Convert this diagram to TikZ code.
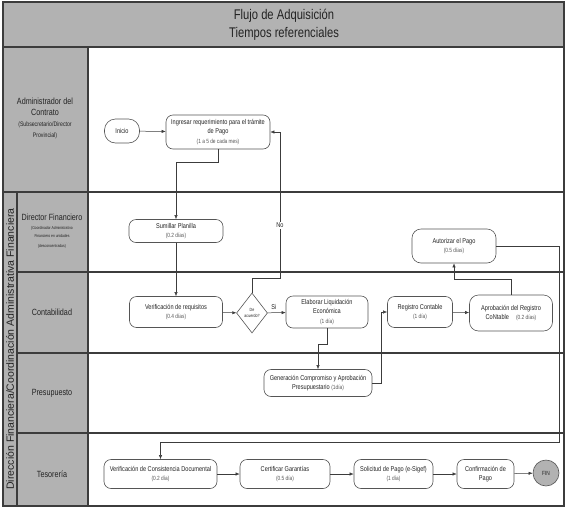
\documentclass[tikz,border=0pt]{standalone}
\usepackage{fontspec}
\setmainfont[FakeStretch=0.8]{Liberation Sans}
\newfontfamily\widefont{Liberation Sans}
\usetikzlibrary{positioning,arrows.meta,shapes.geometric}
\definecolor{lanegray}{RGB}{178,178,178}
\definecolor{linegray}{RGB}{60,60,60}
\definecolor{boxgray}{RGB}{85,85,85}
\definecolor{textgray}{RGB}{35,35,35}
\definecolor{subgray}{RGB}{85,85,85}
\newcommand{\tiempo}[1]{{\fontsize{6}{9}\selectfont\color{subgray}#1}}
\newcommand{\cargo}[2]{{\fontsize{#1}{8}\selectfont #2}}

\begin{document}
\begin{tikzpicture}[x=1pt,y=-1pt,
  task/.style={draw=boxgray, line width=0.6pt, fill=white, rounded corners=7pt, align=center, text=textgray, font=\fontsize{7}{9.5}\selectfont, inner sep=1pt},
  flow/.style={draw=linegray, line width=0.5pt, -{Latex[length=4pt,width=3.2pt]}},
  laneline/.style={draw=linegray, line width=1.3pt},
  lanelabel/.style={align=center, text=textgray, font=\fontsize{9}{11}\selectfont}]

  \useasboundingbox (0,0) rectangle (567,509);
  \fill[white] (0,0) rectangle (567,509);

  % Title and header column
  \fill[lanegray] (3,2) rectangle (564,47);
  \fill[lanegray] (3,47) rectangle (88,506);
  \node[font=\fontsize{14}{18}\selectfont, align=center, text=textgray] (titulo) at (284,25) {Flujo de Adquisición\\Tiempos referenciales};

  % Lanes
  \draw[laneline] (3,47) -- (564,47);
  \draw[laneline] (3,192) -- (564,192);
  \foreach \y in {272,353,433}
    \draw[laneline] (17,\y) -- (564,\y);
  \draw[laneline] (88,47) -- (88,506);
  \draw[laneline] (17,192) -- (17,506);
  \draw[laneline] (3,2) rectangle (564,506);

  \node[rotate=90, font=\widefont\fontsize{10.5}{12}\selectfont, text=textgray] (direccion) at (10,349) {Dirección Financiera/Coordinación Administrativa Financiera};
  \node[lanelabel] (hadmin) at (45,118) {Administrador del\\Contrato\\\cargo{6.5}{(Subsecretario/Director}\\\cargo{6.5}{Provincial)}};
  \node[lanelabel] (hdirector) at (52,231) {Director Financiero\\[-2pt]\cargo{4.2}{(Coordinador Administrativo}\\[-3pt]\cargo{4.2}{Financiero en unidades}\\[-1pt]\cargo{4.2}{(desconcentradas)}};
  \node[lanelabel] (hconta) at (52,312) {Contabilidad};
  \node[lanelabel] (hpresu) at (52,393) {Presupuesto};
  \node[lanelabel] (hteso) at (52,474) {Tesorería};

  % Administrador del Contrato
  \node[task, rounded corners=11pt, minimum width=35, minimum height=24] (inicio) at (122,131) {Inicio};
  \node[task, minimum width=104, minimum height=34] (ingresar) at (218,132) {Ingresar requerimiento para el trámite\\de Pago\\\tiempo{(1 a 5 de cada mes)}};

  % Director Financiero
  \node[task, minimum width=94, minimum height=23] (sumillar) at (176,231) {Sumillar Planilla\\\tiempo{(0.2 días)}};
  \node[task, rounded corners=9pt, minimum width=84, minimum height=34] (autorizar) at (454,246) {Autorizar el Pago\\\tiempo{(0.5 días)}};

  % Contabilidad
  \node[task, minimum width=93, minimum height=31] (verif) at (176,312) {Verificación de requisitos\\\tiempo{(0.4 días)}};
  \node[diamond, draw=boxgray, line width=0.6pt, fill=white, aspect=0.78, inner sep=0pt, minimum width=31, minimum height=40, align=center, text=textgray, font=\fontsize{4.5}{5.5}\selectfont] (acuerdo) at (252,313) {De\\acuerdo?};
  \node[task, minimum width=82, minimum height=32] (elaborar) at (327,312) {Elaborar Liquidación\\Económica\\\tiempo{(1 día)}};
  \node[task, minimum width=65, minimum height=31] (registro) at (420,312) {Registro Contable\\\tiempo{(1 día)}};
  \node[task, rounded corners=9pt, minimum width=83, minimum height=36] (aprobacion) at (511,313) {Aprobación del Registro\\CoNtable\quad\tiempo{(0.2 días)}};

  % Presupuesto
  \node[task, minimum width=108, minimum height=27] (generacion) at (318,383) {Generación Compromiso y Aprobación\\Presupuestario \tiempo{(1día)}};

  % Tesoreria
  \node[task, minimum width=113, minimum height=29] (consist) at (160.5,474) {Verificación de Consistencia Documental\\\tiempo{(0.2 día)}};
  \node[task, minimum width=90, minimum height=29] (certificar) at (285,474) {Certificar Garantías\\\tiempo{(0.5 día)}};
  \node[task, minimum width=79, minimum height=29] (solicitud) at (393.5,474) {Solicitud de Pago (e-Sigef)\\\tiempo{(1 día)}};
  \node[task, minimum width=57, minimum height=29] (confirm) at (485.5,474) {Confirmación de\\Pago};
  \node[circle, draw=boxgray, line width=0.6pt, fill=lanegray, minimum size=26, inner sep=0pt, text=textgray, font=\fontsize{6}{7}\selectfont] (fin) at (546,473) {FIN};

  \coordinate (noturn) at (280,278);
  \coordinate (retorno) at (559,442);

  % Connectors
  \draw[flow] (inicio) -- (ingresar);
  \draw[flow] (ingresar.south) -- ++(0,13) -| (sumillar.north);
  \draw[flow] (sumillar) -- (verif);
  \draw[flow] (verif) -- (acuerdo);
  \draw[flow] (acuerdo) -- node[above, pos=0.35, text=textgray, font=\fontsize{7}{8}\selectfont] {Si} (elaborar);
  \draw[flow] (acuerdo.north) |- (noturn) |- (ingresar.east) node[pos=0.18, fill=white, inner sep=1pt, text=textgray, font=\fontsize{7}{8}\selectfont] {No};
  \draw[flow] (elaborar.south) -- ++(0,16) -| (generacion.north);
  \draw[flow] (generacion.east) -- ++(9,0) |- (registro.west);
  \draw[flow] (registro) -- (aprobacion);
  \draw[flow] (aprobacion.north) -- ++(0,-15) -| (autorizar.south);
  \draw[flow] (autorizar.east) -| (retorno) -| (consist.north);
  \draw[flow] (consist) -- (certificar);
  \draw[flow] (certificar) -- (solicitud);
  \draw[flow] (solicitud) -- (confirm);
  \draw[flow] (confirm) -- (fin);
\end{tikzpicture}
\end{document}
